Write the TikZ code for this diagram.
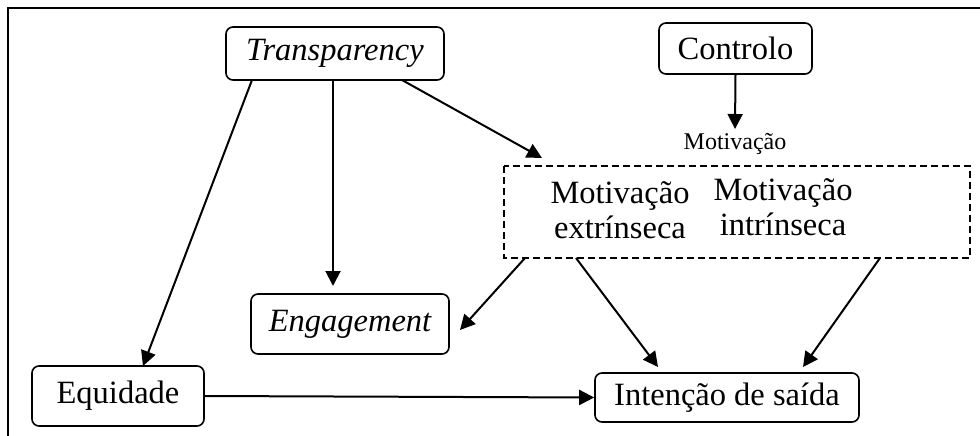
\documentclass[tikz,border=0pt]{standalone}
\usepackage{fontspec}
\setmainfont{Liberation Serif}
\usetikzlibrary{arrows.meta}
\begin{document}
\begin{tikzpicture}[x=1pt,y=-1pt,
  box/.style={draw,line width=1.6pt,rounded corners=7pt,inner sep=0pt,font=\fontsize{32.5}{35}\selectfont},
  arr/.style={line width=2pt,-{Triangle[length=15pt,width=15pt]}},
  big/.style={font=\fontsize{32.5}{35}\selectfont,align=center,inner sep=0pt}]
\useasboundingbox (0,0) rectangle (980,436);
\draw[line width=2pt] (8,436) -- (8,8) -- (980,8);
\node[box,minimum width=218pt,minimum height=53pt] (tr) at (335,53.5) {\itshape Transparency};
\node[box,minimum width=153pt,minimum height=51pt] (co) at (735.5,48.5) {Controlo};
\node[font=\fontsize{24}{26}\selectfont,inner sep=0pt] (mo) at (735,144) {Motivação};
\draw[line width=1.4pt,dash pattern=on 7pt off 4pt] (504,166) rectangle (970,258);
\coordinate (dbl) at (525,258);
\coordinate (dbe) at (576,258);
\coordinate (dbi) at (880,258);
\coordinate (dtop) at (542,158);
\node[big] (me) at (620,210) {Motivação\\extrínseca};
\node[big] (mi) at (783,207) {Motivação\\intrínseca};
\node[box,minimum width=198pt,minimum height=60pt] (en) at (350,324) {\itshape Engagement};
\node[box,minimum width=172pt,minimum height=60pt] (eq) at (118,396) {Equidade};
\node[box,minimum width=264pt,minimum height=49pt] (in) at (727,397.5) {Intenção de saída};
\coordinate (coend) at (735,129);
\coordinate (ent) at (333,286);
\coordinate (trs) at (333,80);
\coordinate (trl) at (252,80);
\coordinate (trr) at (402,80);
\coordinate (eqn) at (143,366);
\coordinate (enr) at (460,330);
\coordinate (ina) at (658,367);
\coordinate (inb) at (803,367);
\draw[arr] (co.south) -- (coend);
\draw[arr] (trs) -- (ent);
\draw[arr] (trl) -- (eqn);
\draw[arr] (trr) -- (dtop);
\draw[arr] (dbl) -- (enr);
\draw[arr] (dbe) -- (ina);
\draw[arr] (dbi) -- (inb);
\draw[arr] (eq.east) -- (in.west);
\end{tikzpicture}
\end{document}
